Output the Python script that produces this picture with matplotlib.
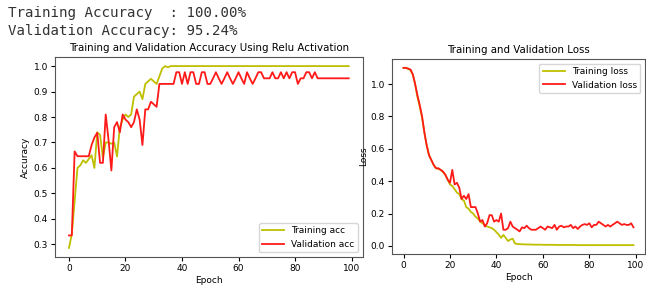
import matplotlib
matplotlib.use("Agg")
import matplotlib.pyplot as plt
import numpy as np

epochs = list(range(100))

train_acc = [0.286, 0.34, 0.47, 0.60, 0.61, 0.63, 0.62, 0.635, 0.65, 0.60,
             0.74, 0.73, 0.64, 0.70, 0.70, 0.695, 0.70, 0.645, 0.76, 0.79,
             0.81, 0.80, 0.81, 0.88, 0.89, 0.90, 0.87, 0.93, 0.94, 0.95,
             0.94, 0.93, 0.96, 0.99, 1.0, 0.995] + [1.0] * 64

val_acc = [0.335, 0.335, 0.665, 0.646, 0.646, 0.646, 0.646, 0.646, 0.69, 0.72,
           0.738, 0.62, 0.62, 0.81, 0.71, 0.59, 0.76, 0.78, 0.74, 0.81,
           0.79, 0.78, 0.76, 0.78, 0.83, 0.79, 0.69, 0.83, 0.83, 0.86,
           0.85, 0.84, 0.93, 0.93, 0.93, 0.93, 0.93, 0.93, 0.976, 0.976,
           0.93, 0.976, 0.93, 0.976, 0.976, 0.93, 0.93, 0.976, 0.976, 0.93,
           0.93, 0.952, 0.976, 0.952, 0.93, 0.952, 0.976, 0.952, 0.93, 0.952,
           0.976, 0.952, 0.93, 0.976, 0.952, 0.93, 0.952, 0.976, 0.976, 0.952,
           0.952, 0.952, 0.976, 0.952, 0.952, 0.976, 0.952, 0.976, 0.952, 0.976,
           0.976, 0.93, 0.952, 0.952, 0.976, 0.976, 0.952, 0.976, 0.952] + [0.952] * 11

train_loss = [1.10, 1.10, 1.095, 1.085, 1.06, 1.0, 0.92, 0.86, 0.79, 0.70,
              0.62, 0.56, 0.53, 0.50, 0.48, 0.475, 0.47, 0.455, 0.44, 0.41,
              0.38, 0.37, 0.35, 0.33, 0.32, 0.29, 0.28, 0.24, 0.23, 0.21,
              0.20, 0.18, 0.17, 0.15, 0.14, 0.13, 0.12, 0.115, 0.11, 0.10,
              0.085, 0.07, 0.05, 0.068, 0.05, 0.03, 0.04, 0.045, 0.015, 0.012,
              0.011, 0.010, 0.010, 0.009, 0.009, 0.009, 0.008, 0.008, 0.008, 0.008,
              0.007, 0.007, 0.007, 0.007, 0.007, 0.007, 0.006, 0.006, 0.006, 0.006,
              0.006, 0.006, 0.006, 0.006, 0.006, 0.005, 0.005, 0.005, 0.005, 0.005,
              0.005, 0.005, 0.005, 0.005, 0.005, 0.005, 0.005, 0.005, 0.005, 0.005,
              0.005, 0.005, 0.005, 0.005, 0.005, 0.005, 0.005, 0.005, 0.005, 0.005]

val_loss = [1.10, 1.10, 1.095, 1.09, 1.06, 1.0, 0.93, 0.87, 0.80, 0.70,
            0.62, 0.56, 0.53, 0.50, 0.48, 0.48, 0.47, 0.46, 0.44, 0.41,
            0.39, 0.47, 0.38, 0.39, 0.36, 0.29, 0.31, 0.29, 0.32, 0.24,
            0.24, 0.24, 0.20, 0.15, 0.16, 0.12, 0.14, 0.19, 0.19, 0.15,
            0.16, 0.15, 0.20, 0.10, 0.10, 0.11, 0.15, 0.12, 0.11, 0.10,
            0.09, 0.115, 0.11, 0.125, 0.11, 0.10, 0.10, 0.10, 0.11, 0.12,
            0.11, 0.10, 0.12, 0.115, 0.11, 0.13, 0.10, 0.12, 0.125, 0.115,
            0.12, 0.12, 0.13, 0.11, 0.12, 0.105, 0.12, 0.13, 0.135, 0.13,
            0.14, 0.115, 0.13, 0.13, 0.15, 0.14, 0.13, 0.12, 0.13, 0.12,
            0.13, 0.14, 0.15, 0.14, 0.13, 0.135, 0.13, 0.13, 0.14, 0.115]

summary_lines = ["Training Accuracy  : 100.00%", "Validation Accuracy: 95.24%"]

W, H = 646, 289
fig = plt.figure(figsize=(W / 100, H / 100), dpi=100)

def frac(x0, y0, x1, y1):
    return [x0 / W, 1 - y1 / H, (x1 - x0) / W, (y1 - y0) / H]

tick_fs = 6.5
lab_fs = 6.5
title_fs = 7.4

fig.text(8 / W, 1 - 13 / H, summary_lines[0], family="DejaVu Sans Mono", fontsize=10.2,
         va="center", ha="left", color="#333333")
fig.text(8 / W, 1 - 31 / H, summary_lines[1], family="DejaVu Sans Mono", fontsize=10.2,
         va="center", ha="left", color="#333333")

ax1 = fig.add_axes(frac(55, 57, 362.7, 257))
ax1.plot(epochs, train_acc, color="#bfbf00", lw=1.3, label="Training acc")
ax1.plot(epochs, val_acc, color="#ff1a1a", lw=1.3, label="Validation acc")
ax1.set_title("Training and Validation Accuracy Using Relu Activation", fontsize=title_fs, pad=4)
ax1.set_xlabel("Epoch", fontsize=lab_fs, labelpad=2)
ax1.set_ylabel("Accuracy", fontsize=lab_fs, labelpad=3)
ax1.tick_params(labelsize=tick_fs, length=3, pad=2)
ax1.legend(loc="lower right", fontsize=6.5, handlelength=2.4)

ax2 = fig.add_axes(frac(392, 59, 645, 254))
ax2.plot(epochs, train_loss, color="#bfbf00", lw=1.3, label="Training loss")
ax2.plot(epochs, val_loss, color="#ff1a1a", lw=1.3, label="Validation loss")
ax2.set_title("Training and Validation Loss", fontsize=title_fs, pad=4)
ax2.set_xlabel("Epoch", fontsize=lab_fs, labelpad=2)
ax2.set_ylabel("Loss", fontsize=lab_fs, labelpad=2)
ax2.tick_params(labelsize=tick_fs, length=3, pad=2)
ax2.legend(loc="upper right", fontsize=6.5, handlelength=2.4)

for ax in (ax1, ax2):
    for s in ax.spines.values():
        s.set_color("#555555")
        s.set_linewidth(0.8)

fig.savefig("out.png", dpi=100)
